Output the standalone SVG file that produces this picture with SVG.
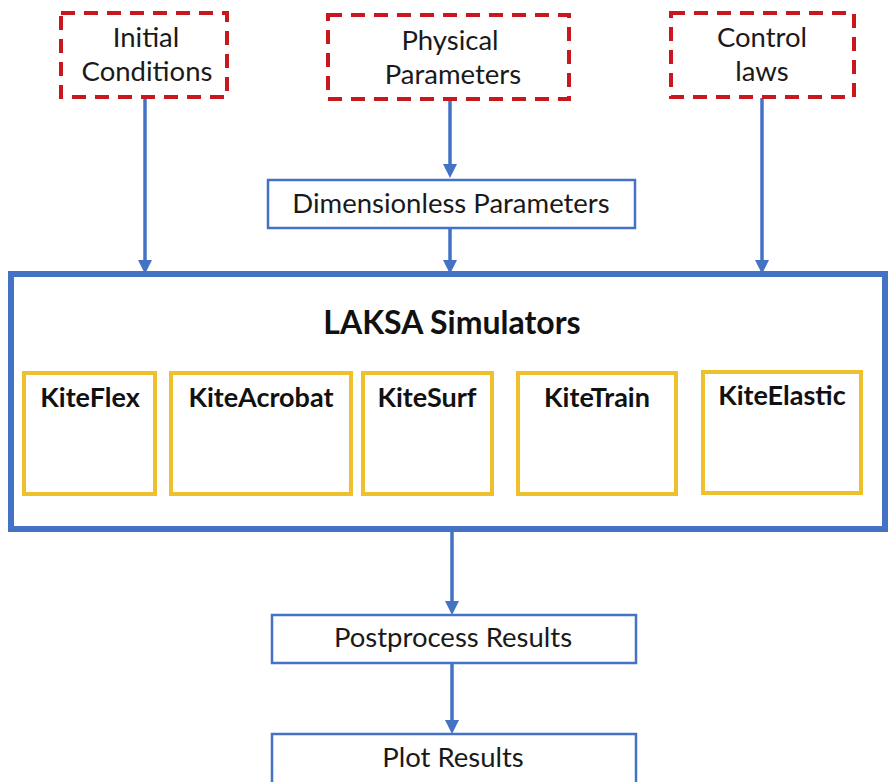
<svg xmlns="http://www.w3.org/2000/svg" width="890" height="782" viewBox="0 0 890 782">
<style>
.red{fill:#fff;stroke:#C9171E;stroke-width:4;stroke-dasharray:14 9}
.blue{fill:#fff;stroke:#4472C4;stroke-width:2.5}
.main{fill:#fff;stroke:#4472C4;stroke-width:6}
.kite{fill:#fff;stroke:#EEC02E;stroke-width:4}
.t{font-family:Lato,"Liberation Sans",sans-serif;font-size:27.5px;fill:#1a1a1a;text-anchor:middle}
.b{font-family:Lato,"Liberation Sans",sans-serif;font-weight:bold;font-size:27px;fill:#111;text-anchor:middle}
.conn{stroke:#4472C4;stroke-width:3.5;fill:none}
.head{fill:#4472C4}
</style>
<rect width="890" height="782" fill="#fff"/>
<g id="connectors">
<line class="conn" x1="145" y1="98" x2="145" y2="262"/>
<path class="head" d="M138,260 L152,260 L145,274 Z"/>
<line class="conn" x1="450" y1="100" x2="450" y2="166"/>
<path class="head" d="M443,164 L457,164 L450,178 Z"/>
<line class="conn" x1="450" y1="228" x2="450" y2="262"/>
<path class="head" d="M443,260 L457,260 L450,274 Z"/>
<line class="conn" x1="762" y1="98" x2="762" y2="262"/>
<path class="head" d="M755,260 L769,260 L762,274 Z"/>
<line class="conn" x1="452" y1="530" x2="452" y2="603"/>
<path class="head" d="M445,601 L459,601 L452,615 Z"/>
<line class="conn" x1="452" y1="663" x2="452" y2="722"/>
<path class="head" d="M445,720 L459,720 L452,734 Z"/>
</g>
<g id="initial">
<rect class="red" x="61" y="13" width="166" height="84"/>
<text class="t" x="146" y="47">Initial</text>
<text class="t" x="147" y="81">Conditions</text>
</g>
<g id="physical">
<rect class="red" x="328" y="15" width="241" height="84"/>
<text class="t" x="450" y="50">Physical</text>
<text class="t" x="453" y="84">Parameters</text>
</g>
<g id="control">
<rect class="red" x="671" y="13" width="183" height="84"/>
<text class="t" x="762" y="47">Control</text>
<text class="t" x="762" y="81">laws</text>
</g>
<g id="dimensionless">
<rect class="blue" x="268" y="180" width="367" height="48"/>
<text class="t" x="451" y="213">Dimensionless Parameters</text>
</g>
<g id="laksa">
<rect class="main" x="11" y="274" width="874" height="255"/>
<text class="b" x="452" y="334" style="font-size:32px">LAKSA Simulators</text>
</g>
<g id="kiteflex">
<rect class="kite" x="24" y="373" width="131" height="121"/>
<text class="b" x="90" y="407">KiteFlex</text>
</g>
<g id="kiteacrobat">
<rect class="kite" x="171" y="373" width="180" height="121"/>
<text class="b" x="261" y="407">KiteAcrobat</text>
</g>
<g id="kitesurf">
<rect class="kite" x="363" y="373" width="129" height="121"/>
<text class="b" x="427" y="407">KiteSurf</text>
</g>
<g id="kitetrain">
<rect class="kite" x="518" y="373" width="158" height="121"/>
<text class="b" x="597" y="407">KiteTrain</text>
</g>
<g id="kiteelastic">
<rect class="kite" x="703" y="372" width="158" height="121"/>
<text class="b" x="782" y="405">KiteElastic</text>
</g>
<g id="postprocess">
<rect class="blue" x="272" y="615" width="364" height="48"/>
<text class="t" x="453" y="647">Postprocess Results</text>
</g>
<g id="plot">
<rect class="blue" x="272" y="734" width="364" height="60"/>
<text class="t" x="453" y="767">Plot Results</text>
</g>
</svg>
